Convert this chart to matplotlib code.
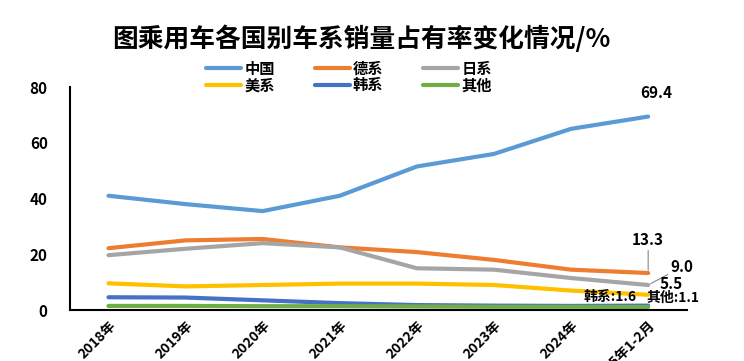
import matplotlib.pyplot as plt

plt.rcParams['font.family'] = ['Noto Sans CJK SC', 'DejaVu Sans']

years = ["2018年", "2019年", "2020年", "2021年", "2022年", "2023年", "2024年", "2025年1-2月"]
china = [41.0, 38.0, 35.5, 41.0, 51.5, 56.0, 65.0, 69.4]
german = [22.2, 25.0, 25.5, 22.5, 20.8, 18.0, 14.5, 13.3]
japan = [19.7, 22.0, 24.0, 22.5, 15.0, 14.5, 11.5, 9.0]
usa = [9.6, 8.5, 9.0, 9.5, 9.5, 9.0, 7.0, 5.5]
korea = [4.6, 4.5, 3.5, 2.5, 1.8, 1.6, 1.5, 1.6]
other = [1.5, 1.5, 1.4, 1.4, 1.3, 1.2, 1.2, 1.1]

series = [("中国", china, "#5B9BD5"), ("德系", german, "#ED7D31"), ("日系", japan, "#A5A5A5"),
          ("美系", usa, "#FFC000"), ("韩系", korea, "#4472C4"), ("其他", other, "#70AD47")]

fig = plt.figure(figsize=(7.44, 3.61), dpi=100)
ax = fig.add_axes([0.094, 0.141, 0.829, 0.618])
x = list(range(len(years)))
lines = {}
for name, vals, col in series:
    lines[name], = ax.plot(x, vals, color=col, lw=3, label=name, solid_capstyle='round')

ax.set_xlim(-0.5, 7.5)
ax.set_ylim(0, 80)
ax.set_yticks([0, 20, 40, 60, 80])
ax.set_xticks(x)
ax.set_xticklabels(years, rotation=45, ha='right', rotation_mode='anchor', fontweight='bold', fontsize=10)
for lbl in ax.get_yticklabels():
    lbl.set_fontweight('bold')
    lbl.set_fontsize(11)
ax.tick_params(axis='y', length=0, pad=16)
ax.tick_params(axis='x', length=0, pad=6)
ax.spines['top'].set_visible(False)
ax.spines['right'].set_visible(False)
ax.spines['left'].set_linewidth(1.5)
ax.spines['bottom'].set_linewidth(1.5)

last = len(years) - 1
lead = dict(arrowstyle='-', color='#888888', lw=0.8, shrinkA=0, shrinkB=2)
ax.annotate("69.4", (last, china[-1]), xytext=(6, 17), textcoords='offset points',
            ha='center', va='center', fontsize=11, fontweight='bold')
ax.annotate("13.3", (last, german[-1]), xytext=(0, 24), textcoords='offset points',
            ha='center', va='center', fontsize=11, fontweight='bold', arrowprops=lead)
ax.annotate("9.0", (last, japan[-1]), xytext=(16, 13), textcoords='offset points',
            ha='left', va='center', fontsize=11, fontweight='bold', arrowprops=lead)
ax.annotate("5.5", (last, usa[-1]), xytext=(8, 8), textcoords='offset points',
            ha='left', va='center', fontsize=11, fontweight='bold', arrowprops=lead)
ax.annotate("韩系:1.6", (last, korea[-1]), xytext=(-8, 6), textcoords='offset points',
            ha='right', va='center', fontsize=10, fontweight='bold')
ax.annotate("其他:1.1", (last, other[-1]), xytext=(-1, 6.5), textcoords='offset points',
            ha='left', va='center', fontsize=10, fontweight='bold')

fig.text(0.485, 0.89, "图乘用车各国别车系销量占有率变化情况/%", ha='center', va='center',
         fontsize=18.5, fontweight='bold')
order = ["中国", "美系", "德系", "韩系", "日系", "其他"]
leg = fig.legend([lines[n] for n in order], order, loc='center', bbox_to_anchor=(0.469, 0.787),
                 ncol=3, frameon=False, fontsize=11, handlelength=2.3, columnspacing=2.6,
                 labelspacing=0.05, handletextpad=0.2)
for t in leg.get_texts():
    t.set_fontweight('bold')

fig.savefig("out.png", dpi=100)
